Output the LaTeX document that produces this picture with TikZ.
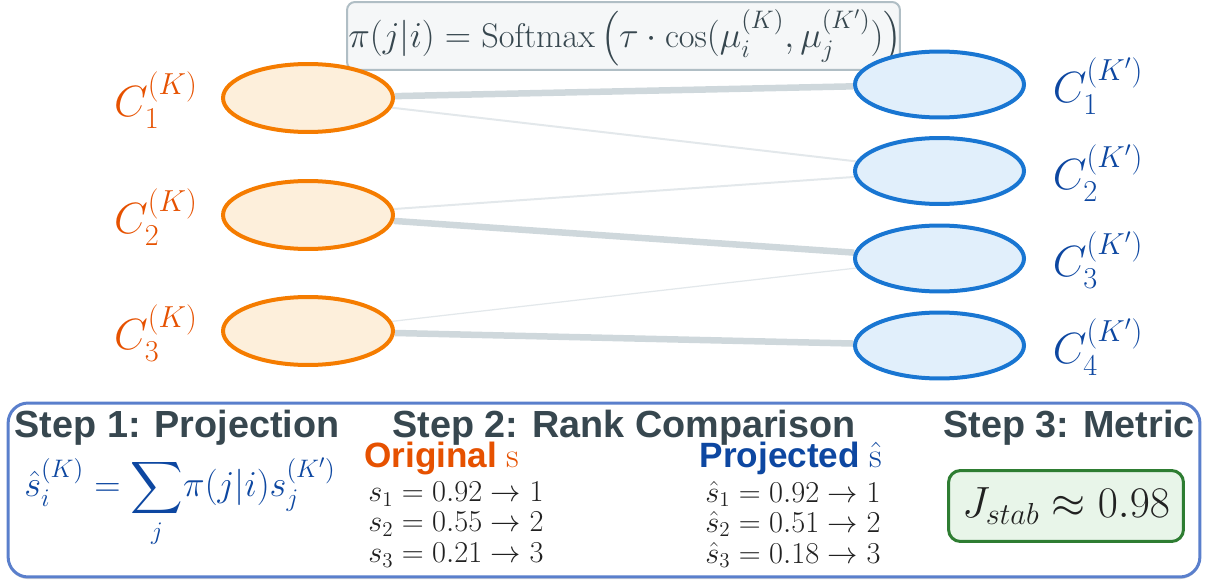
\documentclass[tikz,border=0pt]{standalone}
\usepackage{fontspec}
\usepackage{amsmath}
\newfontfamily\headfont{Liberation Sans}
\usetikzlibrary{backgrounds,shapes.geometric,shadows}
\definecolor{orstroke}{HTML}{F57C00}
\definecolor{orfill}{HTML}{FDEFDB}
\definecolor{ortext}{HTML}{E65100}
\definecolor{blstroke}{HTML}{1976D2}
\definecolor{blfill}{HTML}{E1EFFB}
\definecolor{bltext}{HTML}{0D47A1}
\definecolor{headtext}{HTML}{37474F}
\definecolor{edgecol}{HTML}{CFD8DC}
\definecolor{edgelight}{HTML}{E3E8EB}
\definecolor{boxborder}{HTML}{5A7FCC}
\definecolor{fboxfill}{HTML}{F5F7F8}
\definecolor{fboxborder}{HTML}{B0BEC5}
\definecolor{grfill}{HTML}{E8F5E9}
\definecolor{grborder}{HTML}{2E7D32}
\definecolor{eqtext}{HTML}{212121}
\newcommand{\myopen}{\mathopen{\raisebox{0.9pt}{\fontsize{16}{16}\selectfont$\Bigl($}}}
\newcommand{\myclose}{\mathclose{\raisebox{0.9pt}{\fontsize{16}{16}\selectfont$\Bigr)$}}}
\tikzset{
  orell/.style={ellipse, draw=orstroke, fill=orfill, line width=0.08cm, minimum width=3.4cm, minimum height=1.36cm, inner sep=0pt},
  blell/.style={ellipse, draw=blstroke, fill=blfill, line width=0.08cm, minimum width=3.38cm, minimum height=1.32cm, inner sep=0pt},
  orlab/.style={text=ortext, font=\fontsize{25}{30}\selectfont, inner sep=0pt},
  bllab/.style={text=bltext, font=\fontsize{25}{30}\selectfont, inner sep=0pt},
  heavy/.style={draw=edgecol, line width=0.13cm},
  thinlink/.style={draw=edgelight, line width=0.04cm},
  faintlink/.style={draw=edgelight, line width=0.025cm},
  steptitle/.style={text=headtext, font=\headfont\bfseries\fontsize{21.5}{26}\selectfont, inner sep=0pt},
  subtitle/.style={font=\headfont\bfseries\fontsize{20}{24}\selectfont, inner sep=0pt},
  eqline/.style={text=eqtext, font=\fontsize{18}{22}\selectfont, inner sep=0pt, anchor=west},
}
\begin{document}
\begin{tikzpicture}[x=0.02cm,y=-0.02cm]
\useasboundingbox (0,0) rectangle (1210,581);
% formula box
\node[draw=fboxborder, fill=fboxfill, line width=0.04cm, rounded corners=0.16cm, minimum width=11.06cm, minimum height=1.36cm] (formula) at (623.5,36) {};
\node[text=headtext, font=\fontsize{19.5}{24}\selectfont, inner sep=0pt] (formulatext) at (625,38)
  {$\pi(j|i) = \mathrm{Softmax}\,\myopen\tau\cdot\cos(\mu_i^{(K)},\mu_j^{(K')})\myclose$};
% ellipses
\node[orell] (o1) at (308,98) {};
\node[orell] (o2) at (308,215) {};
\node[orell] (o3) at (308,331) {};
\node[blell] (b1) at (939.5,84.5) {};
\node[blell] (b2) at (939.5,171) {};
\node[blell] (b3) at (939.5,258.5) {};
\node[blell] (b4) at (939.5,345.5) {};
% labels
\node[orlab] (lo1) at (156,100) {$C_1^{(K)}$};
\node[orlab] (lo2) at (156,217) {$C_2^{(K)}$};
\node[orlab] (lo3) at (156,333) {$C_3^{(K)}$};
\node[bllab] (lb1) at (1098,86) {$C_1^{(K')}$};
\node[bllab] (lb2) at (1098,173) {$C_2^{(K')}$};
\node[bllab] (lb3) at (1098,260) {$C_3^{(K')}$};
\node[bllab] (lb4) at (1098,347) {$C_4^{(K')}$};
% connectors
\begin{pgfonlayer}{background}
\draw[heavy] (o1) -- (b1);
\draw[thinlink] (o1) -- (b2);
\draw[thinlink] (o2) -- (b2);
\draw[heavy] (o2) -- (b3);
\draw[faintlink] (o3) -- (b3);
\draw[heavy] (o3) -- (b4);
\end{pgfonlayer}
% bottom panel
\node[draw=boxborder, fill=white, line width=0.06cm, rounded corners=0.4cm, minimum width=23.84cm, minimum height=3.48cm,
      drop shadow={shadow xshift=0pt, shadow yshift=-1.2pt, opacity=0.3, fill=gray}] (panel) at (604,490) {};
\node[steptitle] (s1) at (177,428) {Step 1: Projection};
\node[steptitle] (s2) at (624,428) {Step 2: Rank Comparison};
\node[steptitle] (s3) at (1069,428) {Step 3: Metric};
\node[subtitle, text=ortext] (orig) at (442,458) {Original $\mathrm{s}$};
\node[subtitle, text=bltext] (proj) at (791,458) {Projected $\hat{\mathrm{s}}$};
\node[text=bltext, font=\fontsize{21}{25}\selectfont, inner sep=0pt] (proj1) at (180,503)
  {$\displaystyle \hat{s}_i^{(K)} = \sum_j \!\pi(j|i) s_j^{(K')}$};
\node[eqline] (e1) at (368,494) {$s_1 = 0.92 \rightarrow 1$};
\node[eqline] (e2) at (368,524) {$s_2 = 0.55 \rightarrow 2$};
\node[eqline] (e3) at (368,555) {$s_3 = 0.21 \rightarrow 3$};
\node[eqline] (f1) at (705,494) {$\hat{s}_1 = 0.92 \rightarrow 1$};
\node[eqline] (f2) at (705,524) {$\hat{s}_2 = 0.51 \rightarrow 2$};
\node[eqline] (f3) at (705,555) {$\hat{s}_3 = 0.18 \rightarrow 3$};
\node[draw=grborder, fill=grfill, line width=0.06cm, rounded corners=0.24cm, minimum width=4.7cm, minimum height=1.42cm, text=eqtext, font=\fontsize{24}{28}\selectfont] (metric) at (1066,506)
  {$J_{stab} \approx 0.98$};
\end{tikzpicture}
\end{document}
